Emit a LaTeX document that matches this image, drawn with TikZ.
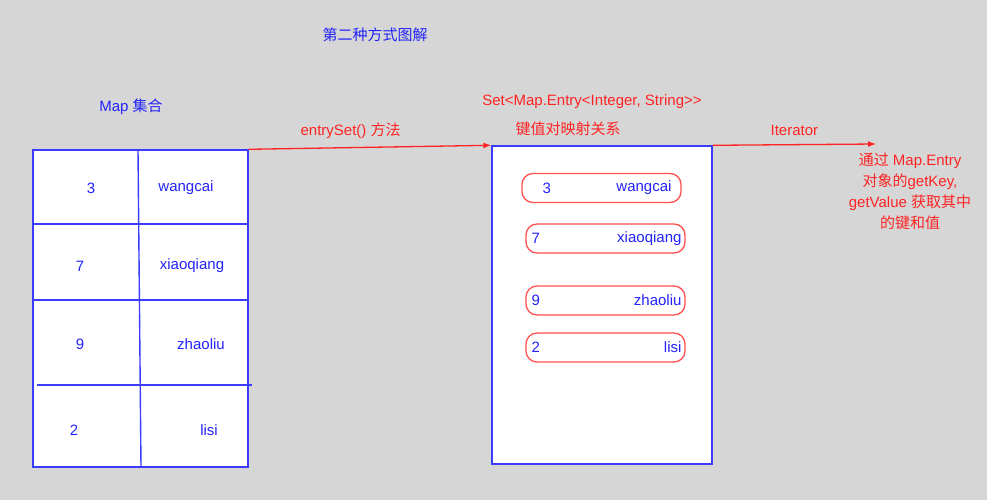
\documentclass[tikz,border=0pt]{standalone}
\usepackage{fontspec}
\setmainfont{Liberation Sans}
\newfontfamily\cjk{Noto Sans CJK SC}
\usetikzlibrary{arrows.meta,positioning}

\definecolor{fon}{RGB}{214,214,214}
\definecolor{mapblue}{RGB}{35,35,250}
\definecolor{lineblue}{RGB}{60,60,255}
\definecolor{iterred}{RGB}{255,35,35}

\begin{document}
\begin{tikzpicture}[x=1pt,y=-1pt,font=\fontsize{15}{17}\selectfont]

        % 样式:
        \tikzstyle{blau}=[text=mapblue, inner sep=2pt]
        \tikzstyle{rot}=[text=iterred, inner sep=2pt]
        \tikzstyle{tabelle}=[draw=lineblue, fill=white, line width=1.4pt]
        \tikzstyle{menge}=[tabelle, minimum width=220, minimum height=318]
        \tikzstyle{eintrag}=[draw=iterred!80, fill=white, line width=1.3pt,
        rounded corners=11pt, minimum width=159, minimum height=29]
        \tikzstyle{line}=[draw, line width=1.3pt, color=iterred,
        -{Latex[length=8pt,width=6pt]}]

        \newcommand{\eintrag}[6]{%
        \node (e#1) [eintrag] at (#2) {};
        \node (k#1) [blau, right=#5 of e#1.west] {#3};
        \node (v#1) [blau, left=#6 of e#1.east] {#4};}

        % Hintergrund
        \useasboundingbox[fill=fon] (0,0) rectangle (987,500);

        % 标题:
        \node (titel) [blau] at (375,35) {\cjk 第二种方式图解};
        \node (maptitel) [blau] at (131,107) {Map {\cjk 集合}};

        % Map 表:
        \node (map) [tabelle, minimum width=215, minimum height=317] at (140.5,308.5) {};
        \draw [lineblue, line width=1.4pt] (138,150) -- (141,467);
        \draw [lineblue, line width=1.4pt] (33,224) -- (248,224);
        \draw [lineblue, line width=1.4pt] (32,300) -- (248,300);
        \draw [lineblue, line width=1.4pt] (37,385) -- (252,385);

        \node (mk1) [blau] at (91,188) {3};
        \node (mv1) [blau] at (186,188) {wangcai};
        \node (mk2) [blau] at (80,266) {7};
        \node (mv2) [blau] at (192,266) {xiaoqiang};
        \node (mk3) [blau] at (80,344) {9};
        \node (mv3) [blau] at (201,344) {zhaoliu};
        \node (mk4) [blau] at (74,430) {2};
        \node (mv4) [blau] at (209,430) {lisi};

        % Set 框:
        \node (set) [menge] at (602,305) {};
        \node (settitel) [rot] at (592,102) {Set<Map.Entry<Integer, String>{}>};
        \node (setsub) [rot] at (568,129) {\cjk 键值对映射关系};

        \eintrag{1}{601.5,188}{3}{wangcai}{19pt}{8pt}
        \eintrag{2}{605.5,238.5}{7}{xiaoqiang}{4pt}{2pt}
        \eintrag{3}{605.5,300.5}{9}{zhaoliu}{4pt}{2pt}
        \eintrag{4}{605.5,347.5}{2}{lisi}{4pt}{2pt}

        % 箭头:
        \coordinate (iterend) at (876,144);
        \path [line] (map.north east) -- node [rot, pos=0.42, above=6pt] {entrySet() {\cjk 方法}} (set.north west);
        \path [line] (set.north east) -- node [rot, pos=0.5, above=6pt] {Iterator} (iterend);

        \node (erkl) [rot, align=center, font=\fontsize{15}{21}\selectfont] at (910,191.5)
        {{\cjk 通过} Map.Entry\\ {\cjk 对象的}getKey,\\ getValue {\cjk 获取其中}\\ {\cjk 的键和值}};
\end{tikzpicture}
\end{document}
